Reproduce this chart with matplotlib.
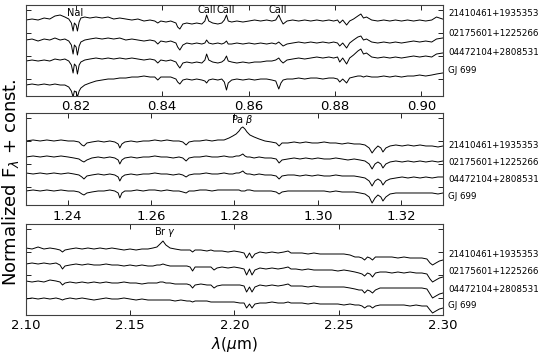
import matplotlib
matplotlib.use("Agg")
import matplotlib.pyplot as plt
import numpy as np

names = ['21410461+1935353', '02175601+1225266', '04472104+2808531', 'GJ 699']

# ---- z band (0.81 - 0.905 um)
wl_z = [0.8085, 0.8099, 0.8113, 0.8127, 0.8140, 0.8152, 0.8164, 0.8175, 0.8184, 0.8190,
        0.8194, 0.8197, 0.8201, 0.8204, 0.8208, 0.8212, 0.8221, 0.8233, 0.8247, 0.8261,
        0.8275, 0.8288, 0.8302, 0.8316, 0.8330, 0.8344, 0.8358, 0.8372, 0.8383, 0.8390,
        0.8397, 0.8409, 0.8420, 0.8432, 0.8436, 0.8441, 0.8448, 0.8457, 0.8469, 0.8480,
        0.8492, 0.8499, 0.8503, 0.8508, 0.8517, 0.8529, 0.8538, 0.8544, 0.8549, 0.8553,
        0.8561, 0.8573, 0.8587, 0.8601, 0.8614, 0.8628, 0.8642, 0.8654, 0.8663, 0.8670,
        0.8675, 0.8680, 0.8689, 0.8702, 0.8716, 0.8730, 0.8744, 0.8758, 0.8772, 0.8786,
        0.8797, 0.8806, 0.8811, 0.8818, 0.8827, 0.8834, 0.8843, 0.8853, 0.8860, 0.8866,
        0.8873, 0.8885, 0.8899, 0.8913, 0.8927, 0.8940, 0.8954, 0.8968, 0.8982, 0.8996,
        0.9010, 0.9024, 0.9035, 0.9049]
fz_2141 = [0.98, 0.99, 0.98, 1.00, 0.99, 1.02, 1.03, 1.01, 0.99, 0.95,
           0.87, 0.95, 0.93, 0.87, 0.96, 1.00, 1.01, 1.00, 1.01, 1.00,
           1.01, 0.99, 1.00, 0.99, 0.98, 0.99, 0.97, 0.98, 0.97, 0.95,
           0.97, 0.96, 0.97, 0.95, 0.91, 0.89, 0.94, 0.95, 0.94, 0.95,
           0.94, 0.97, 1.03, 0.97, 0.95, 0.94, 0.95, 0.98, 1.03, 0.97,
           0.96, 0.97, 0.96, 0.97, 0.98, 0.97, 0.98, 0.97, 0.98, 1.03,
           0.98, 0.94, 0.97, 0.98, 0.97, 0.98, 0.97, 0.98, 0.97, 0.98,
           0.97, 0.98, 0.95, 0.98, 0.93, 0.97, 0.99, 1.02, 1.04, 1.00,
           1.01, 0.98, 0.97, 0.98, 0.97, 0.98, 0.97, 0.98, 0.97, 0.98,
           0.97, 0.98, 1.01, 0.99]
fz_0217 = [0.98, 0.99, 0.97, 0.99, 0.98, 1.00, 0.98, 0.99, 0.97, 0.93,
           0.84, 0.93, 0.91, 0.83, 0.92, 0.96, 0.98, 0.99, 1.00, 0.99,
           1.00, 0.99, 1.00, 0.98, 0.99, 0.98, 0.97, 0.98, 0.97, 0.94,
           0.97, 0.96, 0.97, 0.95, 0.91, 0.88, 0.93, 0.95, 0.94, 0.95,
           0.94, 0.95, 0.98, 0.95, 0.94, 0.95, 0.94, 0.95, 0.97, 0.94,
           0.94, 0.95, 0.94, 0.95, 0.94, 0.95, 0.94, 0.95, 0.94, 0.96,
           0.94, 0.92, 0.94, 0.95, 0.96, 0.95, 0.96, 0.95, 0.96, 0.95,
           0.96, 0.95, 0.92, 0.95, 0.90, 0.95, 0.98, 1.01, 1.02, 0.98,
           0.99, 0.96, 0.95, 0.96, 0.95, 0.96, 0.95, 0.96, 0.97, 0.96,
           0.97, 0.96, 0.99, 1.00]
fz_0447 = [0.97, 0.98, 0.97, 0.98, 0.97, 0.99, 0.98, 0.99, 0.97, 0.93,
           0.85, 0.94, 0.92, 0.84, 0.93, 0.96, 0.98, 0.99, 1.00, 0.99,
           1.00, 0.99, 1.00, 0.99, 1.00, 0.99, 0.98, 0.99, 0.98, 0.95,
           0.98, 0.97, 0.98, 0.96, 0.93, 0.90, 0.95, 0.96, 0.95, 0.96,
           0.95, 0.98, 1.04, 0.98, 0.96, 0.95, 0.96, 0.98, 1.02, 0.97,
           0.96, 0.95, 0.96, 0.95, 0.96, 0.96, 0.97, 0.97, 0.98, 1.00,
           0.97, 0.95, 0.98, 0.99, 1.00, 0.99, 1.00, 1.01, 1.00, 1.01,
           1.00, 1.01, 0.96, 1.00, 0.94, 1.00, 1.03, 1.07, 1.09, 1.04,
           1.05, 1.01, 1.00, 1.01, 1.00, 1.01, 1.00, 1.01, 1.02, 1.01,
           1.02, 1.01, 1.04, 1.05]
fz_gj = [0.93, 0.94, 0.93, 0.94, 0.93, 0.94, 0.93, 0.93, 0.91, 0.87,
         0.81, 0.87, 0.86, 0.81, 0.87, 0.90, 0.93, 0.95, 0.97, 0.98,
         0.99, 0.99, 1.00, 1.00, 1.01, 1.01, 1.02, 1.01, 1.01, 0.98,
         1.01, 1.01, 1.01, 0.99, 0.96, 0.94, 0.98, 0.99, 0.98, 0.99,
         0.98, 0.97, 0.95, 0.98, 0.99, 0.98, 0.99, 0.96, 0.88, 0.95,
         0.98, 0.99, 0.98, 0.99, 0.98, 0.99, 0.99, 0.98, 0.97, 0.89,
         0.95, 0.98, 0.99, 0.99, 1.00, 0.99, 1.00, 1.00, 0.99, 1.00,
         1.00, 0.99, 0.96, 0.99, 0.95, 1.00, 1.01, 1.02, 1.02, 1.01,
         1.02, 1.01, 1.01, 1.02, 1.01, 1.02, 1.01, 1.02, 1.02, 1.03,
         1.02, 1.03, 1.04, 1.05]

# ---- J band (1.23 - 1.33 um)
wl_j = [1.2300, 1.2317, 1.2334, 1.2350, 1.2367, 1.2384, 1.2401, 1.2415, 1.2427, 1.2434,
        1.2439, 1.2446, 1.2458, 1.2473, 1.2487, 1.2501, 1.2513, 1.2521, 1.2525, 1.2530,
        1.2537, 1.2552, 1.2566, 1.2581, 1.2595, 1.2609, 1.2624, 1.2638, 1.2653, 1.2667,
        1.2676, 1.2684, 1.2691, 1.2703, 1.2717, 1.2732, 1.2746, 1.2760, 1.2775, 1.2787,
        1.2796, 1.2804, 1.2811, 1.2816, 1.2820, 1.2825, 1.2830, 1.2837, 1.2847, 1.2859,
        1.2873, 1.2888, 1.2900, 1.2907, 1.2914, 1.2928, 1.2943, 1.2957, 1.2971, 1.2986,
        1.3000, 1.3015, 1.3029, 1.3043, 1.3058, 1.3072, 1.3087, 1.3101, 1.3113, 1.3123,
        1.3130, 1.3137, 1.3144, 1.3151, 1.3156, 1.3163, 1.3173, 1.3187, 1.3202, 1.3216,
        1.3230, 1.3245, 1.3259, 1.3274, 1.3288, 1.3300]
fj_2141 = [0.99, 1.00, 0.99, 1.00, 0.99, 1.00, 0.99, 0.99, 0.98, 0.95,
           0.94, 0.97, 0.98, 0.99, 0.98, 0.99, 0.98, 0.96, 0.92, 0.96,
           0.98, 0.99, 0.98, 0.99, 0.99, 1.00, 0.99, 1.00, 0.99, 0.99,
           0.98, 0.95, 0.98, 0.99, 0.99, 1.00, 0.99, 1.00, 1.00, 1.02,
           1.04, 1.06, 1.09, 1.12, 1.13, 1.11, 1.08, 1.05, 1.03, 1.01,
           0.99, 0.98, 0.97, 0.94, 0.97, 0.97, 0.98, 0.97, 0.98, 0.97,
           0.97, 0.98, 0.97, 0.97, 0.96, 0.97, 0.96, 0.96, 0.95, 0.92,
           0.87, 0.91, 0.94, 0.92, 0.88, 0.92, 0.94, 0.95, 0.94, 0.95,
           0.94, 0.95, 0.94, 0.94, 0.93, 0.94]
fj_0217 = [1.00, 1.01, 1.00, 1.01, 1.00, 1.01, 1.00, 0.99, 0.98, 0.96,
           0.95, 0.97, 0.99, 1.00, 0.99, 1.00, 0.99, 0.97, 0.93, 0.97,
           0.99, 1.00, 0.99, 1.00, 1.00, 1.01, 1.00, 1.00, 0.99, 1.00,
           0.99, 0.96, 0.99, 1.00, 1.00, 1.01, 1.00, 1.00, 1.01, 1.00,
           1.00, 1.01, 1.01, 1.02, 1.03, 1.01, 1.00, 1.00, 0.99, 1.00,
           0.99, 0.99, 0.98, 0.94, 0.97, 0.98, 0.99, 0.98, 0.99, 0.98,
           0.99, 0.98, 0.98, 0.99, 0.98, 0.97, 0.98, 0.97, 0.96, 0.93,
           0.88, 0.93, 0.95, 0.93, 0.89, 0.93, 0.95, 0.96, 0.95, 0.96,
           0.95, 0.96, 0.95, 0.96, 0.95, 0.96]
fj_0447 = [1.01, 1.00, 1.01, 1.00, 1.01, 1.00, 1.01, 1.00, 0.99, 0.97,
           0.95, 0.98, 0.99, 1.00, 0.99, 1.00, 0.99, 0.97, 0.93, 0.97,
           0.99, 1.00, 0.99, 1.00, 1.00, 1.01, 1.00, 1.00, 0.99, 1.00,
           0.99, 0.97, 0.99, 1.00, 1.00, 1.01, 1.00, 1.00, 1.01, 1.00,
           1.00, 1.01, 1.01, 1.02, 1.03, 1.01, 1.00, 1.00, 0.99, 1.00,
           0.99, 0.99, 0.98, 0.95, 0.98, 0.99, 0.99, 0.98, 0.99, 0.98,
           0.99, 0.98, 0.98, 0.99, 0.98, 0.98, 0.98, 0.97, 0.96, 0.93,
           0.88, 0.93, 0.95, 0.93, 0.89, 0.93, 0.95, 0.96, 0.97, 0.96,
           0.97, 0.96, 0.97, 0.96, 0.97, 0.97]
fj_gj = [1.00, 1.01, 1.00, 1.01, 1.00, 1.01, 1.00, 1.00, 0.99, 0.97,
         0.96, 0.98, 0.99, 1.00, 1.00, 1.01, 1.00, 0.98, 0.93, 0.98,
         1.00, 1.00, 1.01, 1.00, 1.01, 1.01, 1.00, 1.01, 1.00, 1.00,
         0.99, 0.98, 1.00, 1.00, 1.01, 1.01, 1.00, 1.01, 1.01, 1.01,
         1.01, 1.01, 1.01, 1.00, 1.00, 1.00, 1.01, 1.01, 1.00, 1.00,
         1.00, 1.00, 0.99, 0.97, 0.99, 1.00, 1.00, 1.00, 1.00, 1.00,
         1.00, 1.00, 0.99, 1.00, 0.99, 0.99, 0.99, 0.98, 0.97, 0.94,
         0.88, 0.93, 0.96, 0.94, 0.90, 0.94, 0.97, 0.98, 0.98, 0.98,
         0.98, 0.98, 0.98, 0.98, 0.97, 0.98]

# ---- K band (2.10 - 2.30 um)
wl_k = [2.1000, 2.1029, 2.1058, 2.1086, 2.1115, 2.1144, 2.1163, 2.1175, 2.1187, 2.1211,
        2.1240, 2.1269, 2.1297, 2.1326, 2.1355, 2.1384, 2.1412, 2.1441, 2.1470, 2.1499,
        2.1528, 2.1556, 2.1585, 2.1609, 2.1628, 2.1643, 2.1657, 2.1671, 2.1691, 2.1715,
        2.1743, 2.1772, 2.1787, 2.1799, 2.1811, 2.1839, 2.1868, 2.1887, 2.1902, 2.1916,
        2.1940, 2.1969, 2.1998, 2.2026, 2.2046, 2.2058, 2.2072, 2.2084, 2.2098, 2.2122,
        2.2151, 2.2180, 2.2209, 2.2237, 2.2257, 2.2271, 2.2295, 2.2324, 2.2353, 2.2381,
        2.2410, 2.2439, 2.2468, 2.2496, 2.2525, 2.2554, 2.2578, 2.2597, 2.2612, 2.2624,
        2.2638, 2.2650, 2.2662, 2.2676, 2.2698, 2.2727, 2.2755, 2.2784, 2.2813, 2.2842,
        2.2871, 2.2899, 2.2923, 2.2938, 2.2950, 2.2966, 2.2983, 2.3000]
fk_2141 = [1.01, 1.00, 1.02, 1.00, 1.01, 1.00, 0.99, 0.97, 0.99, 1.00,
           1.01, 1.00, 1.01, 1.00, 1.01, 1.00, 1.01, 1.00, 0.99, 1.00,
           0.99, 1.00, 1.00, 1.01, 1.02, 1.05, 1.08, 1.04, 1.01, 1.00,
           0.99, 0.99, 0.99, 0.97, 0.99, 0.99, 0.98, 0.99, 0.98, 0.98,
           0.98, 0.97, 0.98, 0.97, 0.96, 0.91, 0.96, 0.91, 0.95, 0.97,
           0.96, 0.97, 0.96, 0.97, 0.98, 0.96, 0.96, 0.96, 0.95, 0.96,
           0.95, 0.95, 0.95, 0.95, 0.95, 0.94, 0.92, 0.92, 0.91, 0.89,
           0.92, 0.91, 0.89, 0.92, 0.92, 0.92, 0.92, 0.91, 0.92, 0.91,
           0.91, 0.91, 0.90, 0.86, 0.84, 0.86, 0.88, 0.89]
fk_0217 = [1.01, 1.02, 1.01, 1.02, 1.01, 1.02, 1.00, 0.96, 0.99, 1.00,
           1.01, 1.00, 1.01, 1.00, 1.00, 1.01, 1.00, 1.00, 0.99, 1.00,
           0.99, 1.00, 0.99, 0.99, 1.00, 1.00, 1.01, 1.00, 0.99, 0.99,
           0.99, 0.99, 0.98, 0.94, 0.98, 0.98, 0.98, 0.98, 0.95, 0.97,
           0.98, 0.97, 0.98, 0.97, 0.96, 0.90, 0.96, 0.90, 0.95, 0.97,
           0.96, 0.97, 0.96, 0.97, 0.98, 0.96, 0.96, 0.95, 0.96, 0.95,
           0.95, 0.95, 0.95, 0.94, 0.95, 0.94, 0.93, 0.92, 0.91, 0.89,
           0.92, 0.91, 0.88, 0.92, 0.93, 0.93, 0.92, 0.93, 0.92, 0.93,
           0.92, 0.92, 0.91, 0.86, 0.83, 0.85, 0.87, 0.88]
fk_0447 = [1.02, 1.01, 1.02, 1.01, 1.03, 1.02, 1.01, 0.98, 1.00, 1.01,
           1.00, 1.01, 1.00, 1.01, 1.00, 1.01, 1.00, 1.00, 1.01, 1.00,
           1.00, 0.99, 1.00, 1.00, 1.00, 1.01, 1.01, 1.00, 1.00, 0.99,
           0.99, 0.99, 0.98, 0.95, 0.98, 0.99, 0.98, 0.98, 0.95, 0.97,
           0.98, 0.98, 0.98, 0.98, 0.97, 0.91, 0.96, 0.91, 0.96, 0.98,
           0.97, 0.98, 0.97, 0.98, 0.99, 0.97, 0.97, 0.97, 0.96, 0.97,
           0.96, 0.96, 0.96, 0.96, 0.96, 0.95, 0.94, 0.93, 0.93, 0.90,
           0.93, 0.92, 0.90, 0.93, 0.95, 0.95, 0.95, 0.95, 0.95, 0.95,
           0.95, 0.95, 0.94, 0.89, 0.85, 0.87, 0.89, 0.90]
fk_gj = [1.01, 1.02, 1.01, 1.02, 1.01, 1.02, 1.01, 1.00, 1.01, 1.02,
         1.01, 1.02, 1.01, 1.00, 1.01, 1.02, 1.01, 1.01, 1.02, 1.01,
         1.00, 1.01, 1.00, 1.00, 1.00, 1.00, 1.00, 1.00, 1.00, 0.99,
         1.00, 0.99, 0.99, 0.98, 0.99, 0.99, 0.99, 0.98, 0.98, 0.98,
         0.98, 0.98, 0.98, 0.97, 0.97, 0.92, 0.96, 0.92, 0.96, 0.97,
         0.97, 0.98, 0.97, 0.97, 0.98, 0.97, 0.97, 0.97, 0.96, 0.97,
         0.96, 0.96, 0.96, 0.96, 0.95, 0.96, 0.95, 0.95, 0.94, 0.92,
         0.94, 0.94, 0.92, 0.94, 0.95, 0.95, 0.95, 0.95, 0.95, 0.94,
         0.95, 0.94, 0.94, 0.90, 0.87, 0.89, 0.91, 0.92]

offsets_z = [0.60, 0.40, 0.20, 0.0]
offsets_j = [0.51, 0.34, 0.17, 0.0]
offsets_k = [0.51, 0.35, 0.17, 0.0]
label_y_z = [1.65, 1.45, 1.26, 1.08]
label_y_j = [1.45, 1.28, 1.11, 0.94]
label_y_k = [1.46, 1.29, 1.11, 0.95]

panels = [
    dict(wl=wl_z, fl=[fz_2141, fz_0217, fz_0447, fz_gj], off=offsets_z, ly=label_y_z,
         xlim=(0.8085, 0.905), ylim=(0.82, 1.73), xticks=[0.82, 0.84, 0.86, 0.88, 0.90],
         lines=[('NaI', 0.8198, 1.65), ('CaII', 0.8503, 1.68), ('CaII', 0.8548, 1.68),
                ('CaII', 0.8668, 1.68)],
         rect=[0.0477, 0.7318, 0.7651, 0.2542]),
    dict(wl=wl_j, fl=[fj_2141, fj_0217, fj_0447, fj_gj], off=offsets_j, ly=label_y_j,
         xlim=(1.23, 1.33), ylim=(0.855, 1.78), xticks=[1.24, 1.26, 1.28, 1.30, 1.32],
         lines=[(r'Pa $\beta$', 1.2820, 1.71)],
         rect=[0.0477, 0.4260, 0.7651, 0.2584]),
    dict(wl=wl_k, fl=[fk_2141, fk_0217, fk_0447, fk_gj], off=offsets_k, ly=label_y_k,
         xlim=(2.10, 2.30), ylim=(0.85, 1.76), xticks=[2.10, 2.15, 2.20, 2.25, 2.30],
         lines=[(r'Br $\gamma$', 2.1665, 1.685)],
         rect=[0.0477, 0.1201, 0.7651, 0.2542]),
]

fig = plt.figure(figsize=(5.45, 3.58), dpi=100)

for i, p in enumerate(panels):
    ax = fig.add_axes(p['rect'])
    for f, off in zip(p['fl'], p['off']):
        ax.plot(p['wl'], np.array(f) + off, color='k', lw=0.7)
    for name, y in zip(names, p['ly']):
        ax.text(1.012, y, name, transform=ax.get_yaxis_transform(),
                fontsize=6.3, va='center', ha='left')
    for txt, x, y in p['lines']:
        ax.text(x, y, txt, fontsize=7, ha='center', va='center')
    ax.set_xlim(p['xlim'])
    ax.set_ylim(p['ylim'])
    ax.set_xticks(p['xticks'])
    ax.set_xticklabels(['%.2f' % t for t in p['xticks']])
    top = p['ylim'][1]
    ax.set_yticks([top - 0.05, top - 0.28, top - 0.51, top - 0.74])
    ax.set_yticklabels([])
    ax.tick_params(direction='in', top=True, right=True, length=3.5, width=0.6,
                   labelsize=9.5, pad=3)
    for s in ax.spines.values():
        s.set_color('0.25')
        s.set_linewidth(0.8)
    if i == 2:
        ax.set_xlabel(r'$\lambda(\mu$m)', fontsize=11, labelpad=2)

fig.text(0.02, 0.49, r'Normalized F$_\lambda$ + const.', rotation=90,
         ha='center', va='center', fontsize=13)

fig.savefig('out.png', dpi=100)
